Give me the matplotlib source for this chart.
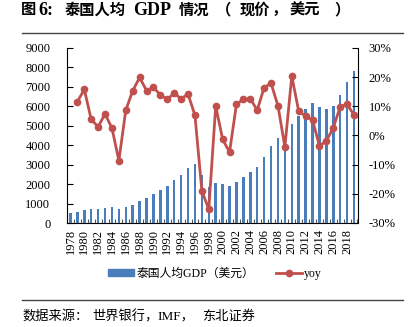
import numpy as np
import matplotlib
matplotlib.use("Agg")
import matplotlib.pyplot as plt
from matplotlib.ticker import FuncFormatter, FixedLocator
from matplotlib.lines import Line2D

plt.rcParams['font.family'] = ['Liberation Serif', 'Noto Sans CJK SC', 'DejaVu Sans']

# --- data ---
years = list(range(1978, 2020))
gdp_pc = [527, 588, 683, 717, 741, 794, 814, 735, 804, 933,
          1116, 1279, 1509, 1715, 1928, 2209, 2491, 2846, 3044, 2468,
          1846, 2033, 2008, 1891, 2092, 2357, 2645, 2894, 3369, 3974,
          4380, 4213, 5076, 5492, 5861, 6169, 5952, 5847, 5994, 6594,
          7274, 7806]
yoy = [np.nan, 11.6, 15.8, 5.5, 3.0, 7.4, 2.5, -8.6, 8.7, 15.3,
       19.9, 15.4, 16.5, 13.9, 12.4, 14.5, 12.6, 14.2, 6.9, -19.0,
       -25.3, 10.1, -1.3, -5.7, 10.7, 12.4, 12.6, 8.7, 16.4, 17.9,
       10.2, -3.9, 20.4, 8.3, 6.7, 5.3, -3.6, -1.8, 2.6, 9.9,
       10.7, 7.0]

# text pieces (the original uses wide, typeset spacing)
title_parts = ["图", "6:", "泰国人均", "GDP", "情况", "（", "现价", "，", "美元", "）"]
title_x = [21, 38, 65, 133, 179, 216, 240, 272, 290, 334]
title_size = [11, 13, 11, 13, 11, 11, 11, 11, 11, 11]
source_parts = ["数据来源：", "世界银行，", "IMF，", "东北证券"]
source_x = [22, 92, 157, 202]
bar_label = "泰国人均GDP（美元）"
line_label = "yoy"

BLUE = "#4a7ebb"
RED = "#c0504d"
W, H = 408, 327

fig = plt.figure(figsize=(W / 100, H / 100), dpi=100)
ax = fig.add_axes([67 / W, 1 - 223 / H, 290.5 / W, 175 / H])
ax2 = ax.twinx()

x = np.arange(len(years))
ax.bar(x, gdp_pc, width=0.36, color=BLUE, zorder=2)
ax2.plot(x, yoy, color=RED, lw=2, marker='o', ms=4.5, zorder=3)

ax.set_xlim(-0.5, len(years) - 0.5)
ax.set_ylim(0, 9000)
ax.set_yticks(range(0, 9001, 1000))
ax2.set_ylim(-30, 30)
ax2.set_yticks(range(-30, 31, 10))
ax2.yaxis.set_major_formatter(FuncFormatter(lambda v, p: f"{v:.0f}%"))

# x ticks: marks at category edges, labels on even years
ax.xaxis.set_major_locator(FixedLocator(np.arange(-0.5, len(years), 1)))
ax.set_xticklabels([])
ax.set_xticks(x[::2], minor=True)
ax.set_xticklabels([str(y) for y in years[::2]], minor=True, rotation=90, fontsize=9)
ax.tick_params(axis='x', which='minor', length=0, pad=4)
ax.tick_params(axis='x', which='major', direction='in', length=3, color='#555555')

ax.tick_params(axis='y', direction='in', length=4, labelsize=9, pad=12)
ax2.tick_params(axis='y', direction='in', length=4, labelsize=9, pad=8)

for a in (ax, ax2):
    a.spines['top'].set_visible(False)
    for s in ('left', 'right', 'bottom'):
        a.spines[s].set_color('black')
        a.spines[s].set_linewidth(0.8)
ax.spines['right'].set_visible(False)
ax2.spines['left'].set_visible(False)
ax2.spines['bottom'].set_visible(False)

# legend
handles = [plt.Rectangle((0, 0), 1, 1, color=BLUE),
           Line2D([0], [0], color=RED, lw=2, marker='o', ms=4.5)]
fig.legend(handles, [bar_label, line_label], loc='center', ncol=2,
           bbox_to_anchor=(215 / W, 1 - 273.5 / H), frameon=False,
           fontsize=8.5, handlelength=2.2, handleheight=0.5, columnspacing=1.8,
           handletextpad=0.2)

# title, rules and source
for t, px, fs in zip(title_parts, title_x, title_size):
    fig.text(px / W, 1 - 10.5 / H, t, fontsize=fs, fontweight='bold',
             va='center', ha='left')
fig.add_artist(Line2D([22 / W, 403 / W], [1 - 33 / H] * 2, color='#444444', lw=1))
fig.add_artist(Line2D([22 / W, 403 / W], [1 - 300 / H] * 2, color='#444444', lw=1))
for t, px in zip(source_parts, source_x):
    fig.text(px / W, 1 - 316.5 / H, t, fontsize=9.5, va='center', ha='left')

fig.savefig("out.png", dpi=100)
